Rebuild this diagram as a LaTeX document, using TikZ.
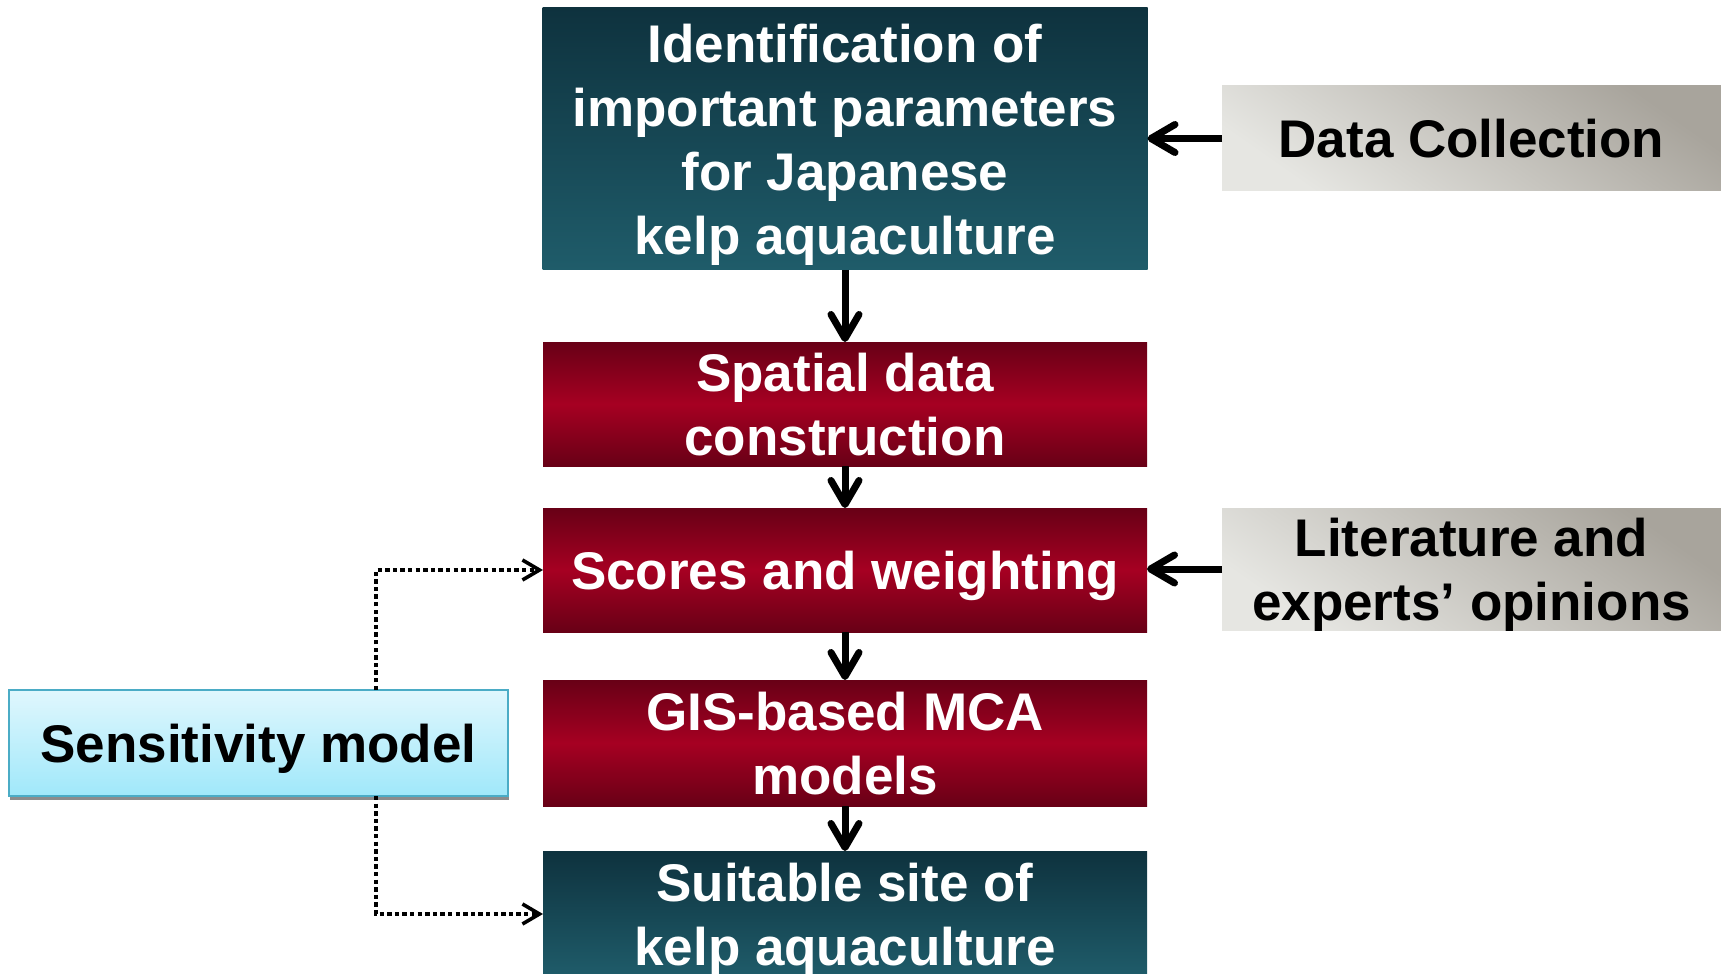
\documentclass[tikz,border=0pt]{standalone}
\usepackage{fontspec}
\setmainfont{Liberation Sans}
\usepackage{tikz}
\usetikzlibrary{arrows.meta,shadows}

\definecolor{tealtop}{RGB}{14,50,62}
\definecolor{tealbot}{RGB}{31,92,106}
\definecolor{redend}{RGB}{104,0,22}
\definecolor{redmid}{RGB}{166,0,34}
\definecolor{greydark}{RGB}{168,164,156}
\definecolor{greylight}{RGB}{230,230,226}
\definecolor{skytop}{RGB}{224,247,253}
\definecolor{skybot}{RGB}{160,232,250}
\definecolor{skyline}{RGB}{75,172,198}

\begin{document}
\begin{tikzpicture}[x=0.5pt,y=-0.5pt,
  every node/.style={inner sep=0pt,outer sep=0pt,align=center,text depth=0pt,
    font=\bfseries\fontsize{26.5}{32}\selectfont},
  tealbox/.style={top color=tealtop,bottom color=tealbot,text=white},
  redbox/.style={top color=redend,bottom color=redend,middle color=redmid,text=white},
  greybox/.style={top color=greydark,bottom color=greylight,shading angle=-35},
  arr/.style={line width=3.5pt,-{Straight Barb[length=12pt,width=14pt,round]}},
  dotarr/.style={line width=1.8pt,dash pattern=on 2.2pt off 1.6pt,-{Straight Barb[length=8.5pt,width=10pt]}}]
\useasboundingbox (0,0) rectangle (1721,974);

% main column
\node[tealbox,minimum width=302.5pt,minimum height=131pt] (ident) at (845,139)
  {Identification of\\important parameters\\for Japanese\\kelp aquaculture};
\node[redbox,minimum width=302pt,minimum height=62pt] (spatial) at (845,404)
  {Spatial data\\construction};
\node[redbox,minimum width=302pt,minimum height=62pt] (scores) at (845,570)
  {Scores and weighting};
\node[redbox,minimum width=302pt,minimum height=63pt] (gis) at (845,743)
  {GIS-based MCA\\models};
\node[tealbox,minimum width=302pt,minimum height=63pt] (suitable) at (845,914)
  {Suitable site of\\kelp aquaculture};

% inputs on the right
\node[greybox,minimum width=249.5pt,minimum height=52.5pt] (data) at (1471.5,138.5)
  {Data Collection};
\node[greybox,minimum width=249.5pt,minimum height=61pt] (lit) at (1471.5,569)
  {Literature and\\experts’ opinions};

% sensitivity on the left
\node[draw=skyline,line width=0.75pt,top color=skytop,bottom color=skybot,
  drop shadow={shadow xshift=0.5pt,shadow yshift=-1.8pt,fill=black!45,opacity=1},
  minimum width=249.5pt,minimum height=53pt] (sens) at (258.5,743) {Sensitivity model};
\coordinate (tap) at (376,743);

\draw[arr] (ident) -- (spatial);
\draw[arr] (spatial) -- (scores);
\draw[arr] (scores) -- (gis);
\draw[arr] (gis) -- (suitable);
\draw[arr] (data.west) -- (data.west -| ident.east);
\draw[arr] (lit.west) -- (lit.west -| scores.east);

\draw[dotarr] (tap |- sens.north) |- (scores.west);
\draw[dotarr] (tap |- sens.south) |- (suitable.west);
\end{tikzpicture}
\end{document}
